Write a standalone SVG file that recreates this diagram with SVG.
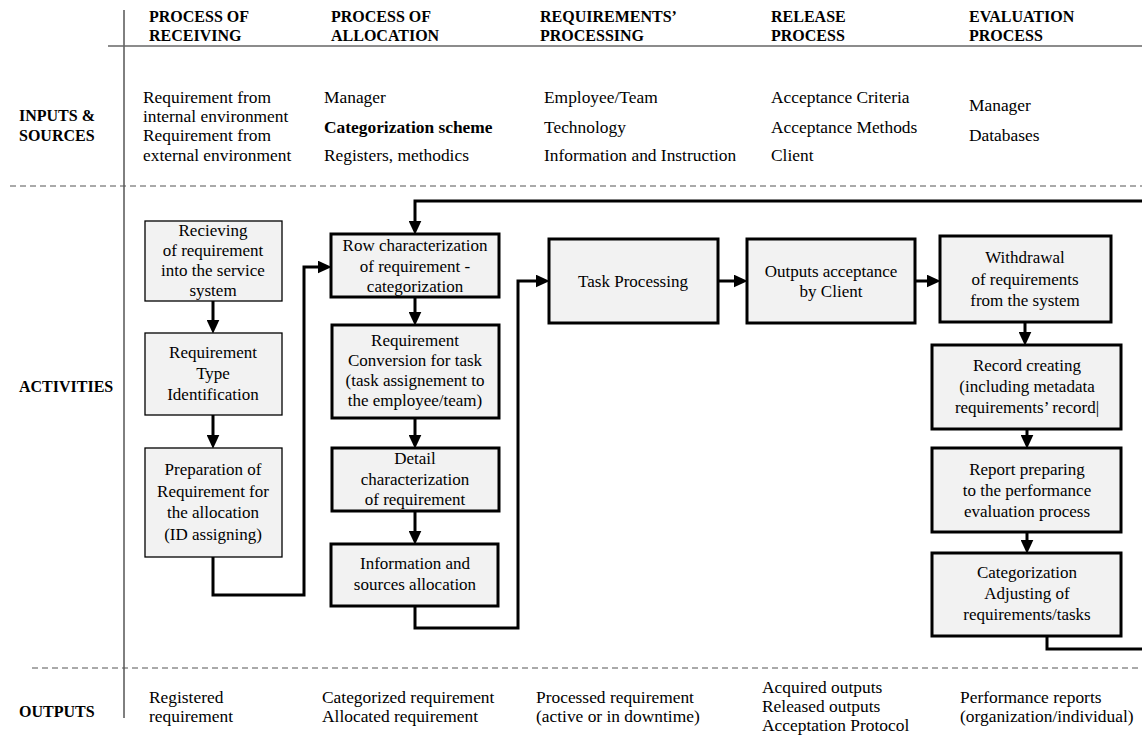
<svg xmlns="http://www.w3.org/2000/svg" width="1142" height="740" viewBox="0 0 1142 740">
<style>
text{font-family:"Liberation Serif","Times New Roman",serif;fill:#000}
.h{font-size:16px;font-weight:bold}
.t{font-size:17.4px}
.b{font-size:17px;text-anchor:middle}
.thin{fill:#f2f2f2;stroke:#000;stroke-width:1.3}
.thick{fill:#f2f2f2;stroke:#000;stroke-width:3}
.c{fill:none;stroke:#000;stroke-width:3}
.a{marker-end:url(#arr)}
.dash{stroke:#555;stroke-width:1;stroke-dasharray:6 4}
</style>
<defs>
<marker id="arr" viewBox="0 0 13 12" markerWidth="14" markerHeight="13" refX="4" refY="6" orient="auto" markerUnits="userSpaceOnUse">
<path d="M0,0 L13,6 L0,12 z" fill="#000"/>
</marker>
</defs>
<rect width="1142" height="740" fill="#fff"/>
<g id="frame">
<line x1="124" y1="10" x2="124" y2="718" stroke="#000" stroke-width="1"/>
<line x1="108" y1="46" x2="1142" y2="46" stroke="#666" stroke-width="1.5"/>
<line x1="10" y1="186" x2="1142" y2="186" class="dash"/>
<line x1="32" y1="668" x2="1142" y2="668" class="dash"/>
</g>
<g id="headers">
<text class="h" x="149" y="22">PROCESS OF</text><text class="h" x="149" y="41">RECEIVING</text>
<text class="h" x="331" y="22">PROCESS OF</text><text class="h" x="331" y="41">ALLOCATION</text>
<text class="h" x="540" y="22">REQUIREMENTS’</text><text class="h" x="540" y="41">PROCESSING</text>
<text class="h" x="771" y="22">RELEASE</text><text class="h" x="771" y="41">PROCESS</text>
<text class="h" x="969" y="22">EVALUATION</text><text class="h" x="969" y="41">PROCESS</text>
</g>
<g id="row-labels">
<text class="h" x="19" y="121">INPUTS &amp;</text><text class="h" x="19" y="141">SOURCES</text>
<text class="h" x="19" y="392">ACTIVITIES</text>
<text class="h" x="19" y="717">OUTPUTS</text>
</g>
<g id="inputs">
<text class="t" x="143" y="103">Requirement from</text>
<text class="t" x="143" y="122">internal environment</text>
<text class="t" x="143" y="141">Requirement from</text>
<text class="t" x="143" y="161">external environment</text>
<text class="t" x="324" y="103">Manager</text>
<text class="t" x="324" y="133" font-weight="bold">Categorization scheme</text>
<text class="t" x="324" y="161">Registers, methodics</text>
<text class="t" x="544" y="103">Employee/Team</text>
<text class="t" x="544" y="133">Technology</text>
<text class="t" x="544" y="161">Information and Instruction</text>
<text class="t" x="771" y="103">Acceptance Criteria</text>
<text class="t" x="771" y="133">Acceptance Methods</text>
<text class="t" x="771" y="161">Client</text>
<text class="t" x="969" y="111">Manager</text>
<text class="t" x="969" y="141">Databases</text>
</g>
<g id="outputs">
<text class="t" x="149" y="703">Registered</text><text class="t" x="149" y="722">requirement</text>
<text class="t" x="322" y="703">Categorized requirement</text><text class="t" x="322" y="722">Allocated requirement</text>
<text class="t" x="536" y="703">Processed requirement</text><text class="t" x="536" y="722">(active or in downtime)</text>
<text class="t" x="762" y="693">Acquired outputs</text><text class="t" x="762" y="712">Released outputs</text><text class="t" x="762" y="731">Acceptation Protocol</text>
<text class="t" x="960" y="703">Performance reports</text><text class="t" x="960" y="722">(organization/individual)</text>
</g>
<g id="connectors">
<path class="c a" d="M213,301 V324"/>
<path class="c a" d="M213,415 V439"/>
<path class="c a" d="M213,557 V595 H304 V267 H322"/>
<path class="c a" d="M415,297 V316"/>
<path class="c a" d="M415,418 V439"/>
<path class="c a" d="M415,511 V535"/>
<path class="c a" d="M415,606 V628 H518 V281 H540"/>
<path class="c a" d="M718,281 H738"/>
<path class="c a" d="M915,281 H931"/>
<path class="c a" d="M1025,322 V336"/>
<path class="c a" d="M1027,429 V439"/>
<path class="c a" d="M1027,532 V544"/>
<path class="c" d="M1047,636 V649 H1142"/>
<path class="c a" d="M1142,201 H415 V225"/>
</g>
<g id="n-receiving">
<rect class="thin" x="145" y="221" width="137" height="80"/>
<text class="b" x="213" y="236">Recieving</text><text class="b" x="213" y="256">of requirement</text><text class="b" x="213" y="276">into the service</text><text class="b" x="213" y="296">system</text>
</g>
<g id="n-type">
<rect class="thin" x="145" y="333" width="137" height="82"/>
<text class="b" x="213" y="358">Requirement</text><text class="b" x="213" y="379">Type</text><text class="b" x="213" y="400">Identification</text>
</g>
<g id="n-prep">
<rect class="thin" x="145" y="448" width="137" height="109"/>
<text class="b" x="213" y="475">Preparation of</text><text class="b" x="213" y="497">Requirement for</text><text class="b" x="213" y="518">the allocation</text><text class="b" x="213" y="540">(ID assigning)</text>
</g>
<g id="n-row">
<rect class="thick" x="331" y="234" width="168" height="63"/>
<text class="b" x="415" y="251">Row characterization</text><text class="b" x="415" y="272">of requirement -</text><text class="b" x="415" y="292">categorization</text>
</g>
<g id="n-conversion">
<rect class="thick" x="332" y="325" width="167" height="93"/>
<text class="b" x="415" y="346">Requirement</text><text class="b" x="415" y="366">Conversion for task</text><text class="b" x="415" y="386">(task assignement to</text><text class="b" x="415" y="406">the employee/team)</text>
</g>
<g id="n-detail">
<rect class="thick" x="332" y="448" width="167" height="63"/>
<text class="b" x="415" y="464">Detail</text><text class="b" x="415" y="485">characterization</text><text class="b" x="415" y="505">of requirement</text>
</g>
<g id="n-info">
<rect class="thick" x="331" y="544" width="167" height="62"/>
<text class="b" x="415" y="569">Information and</text><text class="b" x="415" y="590">sources allocation</text>
</g>
<g id="n-task">
<rect class="thick" x="549" y="239" width="169" height="84"/>
<text class="b" x="633" y="287">Task Processing</text>
</g>
<g id="n-acceptance">
<rect class="thick" x="747" y="239" width="168" height="84"/>
<text class="b" x="831" y="277">Outputs acceptance</text><text class="b" x="831" y="297">by Client</text>
</g>
<g id="n-withdrawal">
<rect class="thick" x="940" y="236" width="171" height="86"/>
<text class="b" x="1025" y="263">Withdrawal</text><text class="b" x="1025" y="285">of requirements</text><text class="b" x="1025" y="306">from the system</text>
</g>
<g id="n-record">
<rect class="thick" x="932" y="345" width="189" height="84"/>
<text class="b" x="1027" y="371">Record creating</text><text class="b" x="1027" y="392">(including metadata</text><text class="b" x="1027" y="413">requirements’ record|</text>
</g>
<g id="n-report">
<rect class="thick" x="932" y="448" width="189" height="84"/>
<text class="b" x="1027" y="475">Report preparing</text><text class="b" x="1027" y="496">to the performance</text><text class="b" x="1027" y="517">evaluation process</text>
</g>
<g id="n-categorization">
<rect class="thick" x="932" y="553" width="189" height="83"/>
<text class="b" x="1027" y="578">Categorization</text><text class="b" x="1027" y="599">Adjusting of</text><text class="b" x="1027" y="620">requirements/tasks</text>
</g>
</svg>
